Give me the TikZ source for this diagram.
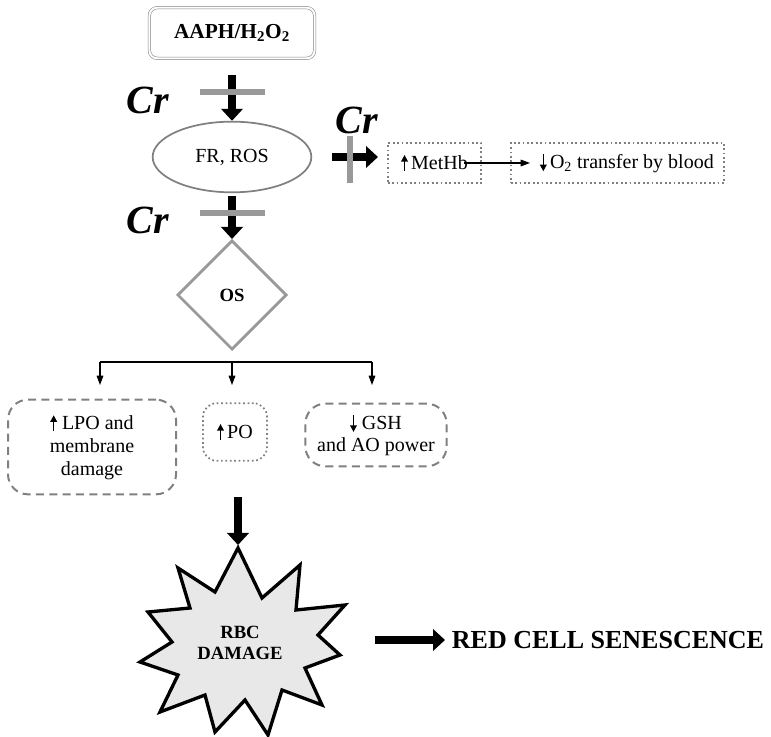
\documentclass[tikz,border=0pt]{standalone}
\usepackage{fontspec}
\setmainfont{Liberation Serif}
\usetikzlibrary{shapes.geometric,arrows.meta}
\newcommand{\myup}{\tikz[baseline=0pt]\draw[line width=1.2pt,-{Triangle[width=5pt,length=5pt]}] (0,-1pt) -- (0,11pt);}
\newcommand{\mydown}{\tikz[baseline=0pt]\draw[line width=1.2pt,-{Triangle[width=5pt,length=5pt]}] (0,11pt) -- (0,-2pt);}
\begin{document}
\begin{tikzpicture}[x=0.75pt,y=-0.75pt,
  big/.style={line width=6pt,-{Triangle[width=16pt,length=9pt]}},
  bar/.style={line width=4pt,draw=gray!80},
  thin/.style={-{Triangle[width=5pt,length=7pt]},line width=0.8pt},
  cr/.style={font=\fontsize{30}{32}\selectfont\bfseries\itshape},
  txt/.style={font=\fontsize{15}{17}\selectfont},
  dotbox/.style={draw=gray,dotted,line width=1.3pt,inner sep=2pt},
  dashbox/.style={draw=gray,dashed,line width=1.5pt,dash pattern=on 6pt off 4pt,rounded corners=15pt}]
\useasboundingbox (0,0) rectangle (771,737);
\node[draw=gray,double,double distance=1.5pt,rounded corners=6pt,minimum width=124pt,minimum height=38pt,font=\fontsize{16}{18}\selectfont\bfseries] (aaph) at (232,33) {AAPH/H\textsubscript{2}O\textsubscript{2}};
\node[draw=gray,line width=1.3pt,ellipse,minimum width=119pt,minimum height=53pt,txt] (fr) at (232,157) {FR, ROS};
\node[draw=gray!80,line width=2pt,diamond,minimum width=82pt,minimum height=82pt,inner sep=0pt,font=\fontsize{14}{16}\selectfont\bfseries] (os) at (232,295) {OS};
\node[cr] (cr1) at (148,100) {Cr};
\node[cr] (cr2) at (148,220) {Cr};
\node[cr] (cr3) at (357,120) {Cr};
\draw[big] (232,75) coordinate (a1) -- (fr.north);
\draw[bar] (200,92) coordinate(b1a) -- (265,92) coordinate(b1b);
\draw[big] (232,196) coordinate (a2) -- (os.north);
\draw[bar] (200,213) coordinate(b2a) -- (265,213) coordinate(b2b);
\node[dotbox,minimum width=70pt,minimum height=30pt,txt,anchor=west] (met) at (387,163) {\myup\,MetHb\hspace{12pt}};
\node[dotbox,minimum width=160pt,minimum height=30pt,txt,anchor=west] (o2) at (510,163) {\hspace{14pt}\mydown\,O\textsubscript{2} transfer by blood};
\draw[big] (332,157) coordinate (a3) -- (378,157);
\draw[bar] (350,136) coordinate(b3a) -- (350,183) coordinate(b3b);
\draw[thin] (464,163) coordinate (m1) -- (530,163);
\draw[line width=0.8pt] (100,362) coordinate (sp) -- (372,362);
\node[dashbox,minimum width=126pt,minimum height=71pt,txt,align=center] (lpo) at (92,447) {\myup\ LPO and\\membrane\\damage};
\node[dotbox,rounded corners=10pt,minimum width=48pt,minimum height=43pt,txt] (po) at (235,432) {\myup\,PO};
\node[dashbox,minimum width=106pt,minimum height=47pt,txt,align=center] (gsh) at (376,435) {\mydown\ GSH\\and AO power};
\draw[thin] (100,362) -- (100,385);
\draw[thin] (232,362) -- (232,385);
\draw[thin] (372,362) -- (372,385);
\draw[line width=2.5pt,fill=gray!18]
 (238,548) -- (262,598) -- (300,565) -- (296,610) -- (345,605) -- (318,635) -- (340,655)
 -- (305,668) -- (322,705) -- (282,690) -- (268,735) -- (245,700) -- (215,732) -- (205,695)
 -- (160,712) -- (178,675) -- (140,662) -- (172,642) -- (148,612) -- (190,608) -- (178,568)
 -- (215,592) -- cycle;
\node[font=\fontsize{14}{16}\selectfont\bfseries,align=center] (rbc) at (240,643) {RBC\\DAMAGE};
\draw[big] (238,497) coordinate (a4) -- (238,545);
\node[font=\fontsize{19.5}{21}\selectfont\bfseries] (red) at (608,640) {RED CELL SENESCENCE};
\draw[big] (375,640) coordinate (a5) -- (445,640);
\end{tikzpicture}
\end{document}
